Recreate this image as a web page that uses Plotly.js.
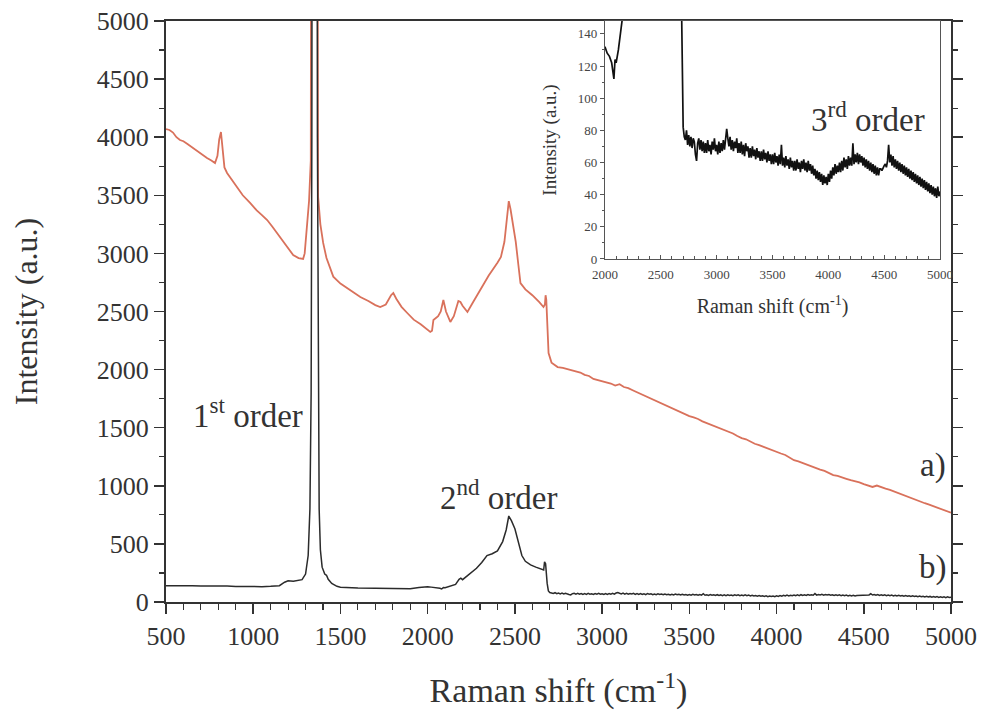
<!DOCTYPE html>
<html>
<head>
<meta charset="utf-8">
<script src="https://cdn.plot.ly/plotly-3.0.1.min.js"></script>
<style>html,body{margin:0;padding:0;background:#fff;}#chart{width:981px;height:713px;}</style>
</head>
<body>
<div id="chart"></div>
<script>
// Spectrum a) (orange)
const aX = [500,520,540,560,580,600,625,655,680,700,735,760,781,795,805,815,825,835,850,880,908,940,982,1020,1050,1080,1110,1154,1190,1229,1260,1286,1295,1309,1320,1330,1336,1339,1352,1365,1368,1372,1385,1401,1420,1441,1459,1500,1550,1614,1660,1700,1728,1760,1790,1803,1820,1850,1883,1920,1960,1998,2015,2025,2033,2060,2075,2090,2105,2130,2150,2176,2188,2200,2228,2260,2300,2350,2400,2420,2440,2455,2465,2475,2490,2505,2520,2532,2560,2600,2640,2664,2672,2676,2680,2686,2693,2710,2745,2775,2800,2825,2850,2875,2900,2925,2950,2975,3000,3025,3050,3075,3100,3125,3150,3175,3200,3225,3250,3275,3300,3325,3350,3375,3400,3425,3450,3475,3500,3525,3550,3575,3600,3625,3650,3675,3700,3725,3750,3775,3800,3825,3850,3875,3900,3925,3950,3975,4000,4025,4050,4075,4100,4125,4150,4175,4200,4225,4250,4275,4300,4325,4350,4375,4400,4425,4450,4475,4500,4525,4550,4575,4600,4625,4650,4675,4700,4725,4750,4775,4800,4825,4850,4875,4900,4925,4950,4975,5000];
const aY = [4070,4062,4040,4000,3976,3965,3940,3907,3880,3860,3821,3800,3778,3840,3980,4045,3900,3740,3692,3630,3571,3500,3434,3370,3330,3287,3230,3141,3060,2986,2960,2952,3000,3262,3450,3800,4500,9000,30000,9000,4500,3485,3250,3090,2960,2883,2800,2740,2690,2625,2590,2555,2539,2560,2640,2659,2610,2540,2487,2430,2390,2341,2324,2335,2427,2460,2500,2599,2500,2410,2460,2590,2582,2550,2496,2580,2680,2810,2920,2970,3100,3300,3450,3380,3250,3100,2900,2745,2690,2640,2580,2539,2560,2640,2600,2350,2143,2060,2022,2015,2005,1995,1980,1975,1955,1945,1920,1910,1900,1885,1880,1862,1875,1850,1840,1822,1805,1790,1770,1752,1735,1722,1700,1688,1670,1648,1635,1615,1600,1588,1575,1555,1540,1520,1505,1495,1480,1460,1450,1428,1410,1400,1380,1362,1350,1335,1320,1302,1290,1278,1265,1240,1220,1210,1195,1180,1170,1150,1140,1128,1110,1092,1085,1070,1060,1048,1040,1030,1015,1000,990,1002,985,975,965,950,935,920,905,890,880,865,850,838,825,810,795,780,768];

// Spectrum b) (black) — also shown magnified in the inset
const bX = [500,550,600,650,700,750,800,850,900,950,1000,1050,1100,1150,1180,1200,1230,1260,1280,1300,1315,1325,1332,1336,1339,1352,1365,1368,1372,1378,1385,1395,1410,1420,1430,1450,1480,1500,1600,1700,1800,1900,1950,2000,2020,2040,2060,2070,2080,2090,2100,2120,2140,2160,2180,2190,2200,2220,2250,2280,2310,2340,2370,2400,2430,2450,2465,2480,2500,2520,2540,2560,2590,2620,2650,2665,2670,2676,2685,2692,
2700,2710,2720,2730,2740,2750,2760,2770,2780,2790,
2800,2810,2820,2830,2840,2850,2860,2870,2880,2890,
2900,2910,2920,2930,2940,2950,2960,2970,2980,2990,
3000,3010,3020,3030,3040,3050,3060,3070,3080,3090,
3100,3110,3120,3130,3140,3150,3160,3170,3180,3190,
3200,3210,3220,3230,3240,3250,3260,3270,3280,3290,
3300,3310,3320,3330,3340,3350,3360,3370,3380,3390,
3400,3410,3420,3430,3440,3450,3460,3470,3480,3490,
3500,3510,3520,3530,3540,3550,3560,3570,3580,3590,
3600,3610,3620,3630,3640,3650,3660,3670,3680,3690,
3700,3710,3720,3730,3740,3750,3760,3770,3780,3790,
3800,3810,3820,3830,3840,3850,3860,3870,3880,3890,
3900,3910,3920,3930,3940,3950,3960,3970,3980,3990,
4000,4010,4020,4030,4040,4050,4060,4070,4080,4090,
4100,4110,4120,4130,4140,4150,4160,4170,4180,4190,
4200,4210,4220,4230,4240,4250,4260,4270,4280,4290,
4300,4310,4320,4330,4340,4350,4360,4370,4380,4390,
4400,4410,4420,4430,4440,4450,4460,4470,4480,4490,
4500,4510,4520,4530,4540,4550,4560,4570,4580,4590,
4600,4610,4620,4630,4640,4650,4660,4670,4680,4690,
4700,4710,4720,4730,4740,4750,4760,4770,4780,4790,
4800,4810,4820,4830,4840,4850,4860,4870,4880,4890,
4900,4910,4920,4930,4940,4950,4960,4970,4980,4990,5000];
const bY = [140,142,138,140,137,139,136,138,134,133,130,132,135,140,170,182,178,185,192,240,400,800,1800,4000,9000,30000,9000,4000,1800,800,450,300,240,230,195,160,135,128,120,118,115,114,125,132,128,126,122,118,112,124,122,130,140,152,195,205,192,215,250,290,340,400,415,440,520,620,740,700,630,520,400,350,320,300,280,275,345,330,160,95,
82,76,74,80,71,77,70,76,69,75,
73,65,61,72,75,68,74,67,73,66,
72,66,74,67,71,65,73,68,75,67,
71,65,73,66,72,67,74,68,77,81,
75,70,76,68,74,67,73,69,75,66,
72,66,73,65,71,64,72,67,70,63,
69,63,70,64,68,62,69,63,67,61,
67,61,68,62,66,60,67,61,65,59,
65,59,66,60,64,58,65,59,71,58,
63,57,64,58,62,56,63,57,61,55,
61,55,62,56,60,54,61,56,62,55,
60,54,61,55,59,53,58,52,56,50,
55,49,54,48,53,46,52,47,51,46,
53,48,55,50,57,52,59,53,58,54,
60,54,61,55,63,57,62,56,64,58,
63,58,72,59,65,60,66,59,65,60,
64,58,63,57,62,56,61,55,60,54,
59,53,58,52,57,52,56,56,55,57,
58,59,57,61,71,60,65,58,64,57,
62,56,61,55,60,54,59,53,58,52,
57,51,56,50,55,49,54,48,53,47,
52,46,51,45,50,44,49,43,48,42,
47,41,46,40,45,39,44,38,45,39,42];

const mainTicks = [500,1000,1500,2000,2500,3000,3500,4000,4500,5000];
const mainYTicks = [0,500,1000,1500,2000,2500,3000,3500,4000,4500,5000];
const insetXTicks = [2000,2500,3000,3500,4000,4500,5000];
const insetYTicks = [0,20,40,60,80,100,120,140];

const serif = 'Liberation Serif, Times New Roman, serif';
const axisCol = '#333';

const traces = [
  {x: aX, y: aY, type: 'scatter', mode: 'lines', line: {color: '#d9715b', width: 1.8}, xaxis: 'x', yaxis: 'y', hoverinfo: 'skip'},
  {x: bX, y: bY, type: 'scatter', mode: 'lines', line: {color: '#2b2b2b', width: 1.5}, xaxis: 'x', yaxis: 'y', hoverinfo: 'skip'},
  {x: bX, y: bY, type: 'scatter', mode: 'lines', line: {color: '#111', width: 1.7}, xaxis: 'x2', yaxis: 'y2', hoverinfo: 'skip'}
];

const layout = {
  width: 981, height: 713,
  margin: {l: 166, r: 30, t: 21, b: 111},
  paper_bgcolor: '#fff', plot_bgcolor: '#fff',
  showlegend: false,
  font: {family: serif, color: axisCol},
  xaxis: {
    domain: [0, 1], range: [500, 5000], tickvals: mainTicks, ticktext: mainTicks.map(String),
    ticks: 'outside', ticklen: 10, tickwidth: 1.5, tickcolor: axisCol,
    minor: {dtick: 100, tick0: 500, ticks: 'outside', ticklen: 6, tickwidth: 1.2, tickcolor: axisCol},
    showline: true, linecolor: axisCol, linewidth: 2, mirror: true,
    showgrid: false, zeroline: false,
    tickfont: {family: serif, size: 26, color: axisCol},
    title: {text: 'Raman shift (cm<sup>-1</sup>)', font: {family: serif, size: 34, color: axisCol}, standoff: 28}
  },
  yaxis: {
    domain: [0, 1], range: [0, 5000], tickvals: mainYTicks, ticktext: mainYTicks.map(String),
    ticks: 'outside', ticklen: 10, tickwidth: 1.5, tickcolor: axisCol,
    minor: {dtick: 250, tick0: 0, ticks: 'outside', ticklen: 5, tickwidth: 1.2, tickcolor: axisCol},
    showline: true, linecolor: axisCol, linewidth: 2, mirror: 'allticks',
    showgrid: false, zeroline: false,
    tickfont: {family: serif, size: 26, color: axisCol},
    title: {text: 'Intensity (a.u.)', font: {family: serif, size: 32, color: axisCol}, standoff: 50}
  },
  xaxis2: {
    domain: [0.5592, 0.986], anchor: 'y2', range: [2000, 5000], tickvals: insetXTicks, ticktext: insetXTicks.map(String),
    ticks: 'inside', ticklen: 4, tickwidth: 1, tickcolor: '#555',
    minor: {dtick: 100, tick0: 2000, ticks: 'inside', ticklen: 2.5, tickwidth: 1, tickcolor: '#555'},
    showline: true, linecolor: '#555', linewidth: 1.2, mirror: true,
    showgrid: false, zeroline: false, ticklabelstandoff: 3,
    tickfont: {family: serif, size: 13, color: '#444'},
    title: {text: 'Raman shift (cm<sup>-1</sup>)', font: {family: serif, size: 20, color: '#333'}, standoff: 18}
  },
  yaxis2: {
    domain: [0.5904, 1], anchor: 'x2', range: [0, 148], tickvals: insetYTicks, ticktext: insetYTicks.map(String),
    ticks: 'outside', ticklen: 4, tickwidth: 1, tickcolor: '#555',
    minor: {dtick: 10, tick0: 0, ticks: 'outside', ticklen: 2, tickwidth: 1, tickcolor: '#555'},
    showline: true, linecolor: '#555', linewidth: 1.2, mirror: true,
    showgrid: false, zeroline: false,
    tickfont: {family: serif, size: 13, color: '#444'},
    title: {text: 'Intensity (a.u.)', font: {family: serif, size: 19, color: '#333'}, standoff: 16}
  },
  annotations: [
    {xref: 'x', yref: 'y', x: 971, y: 1626, text: '1<sup>st</sup> order', showarrow: false, font: {family: serif, size: 33, color: axisCol}},
    {xref: 'x', yref: 'y', x: 2406, y: 921, text: '2<sup>nd</sup> order', showarrow: false, font: {family: serif, size: 33, color: axisCol}},
    {xref: 'x', yref: 'y', x: 4895, y: 1179, text: 'a)', showarrow: false, font: {family: serif, size: 33, color: axisCol}},
    {xref: 'x', yref: 'y', x: 4895, y: 293, text: 'b)', showarrow: false, font: {family: serif, size: 33, color: axisCol}},
    {xref: 'x2', yref: 'y2', x: 4355, y: 88, text: '3<sup>rd</sup> order', showarrow: false, font: {family: serif, size: 33, color: axisCol}}
  ]
};

Plotly.newPlot('chart', traces, layout, {staticPlot: true, displayModeBar: false});
</script>
</body>
</html>
